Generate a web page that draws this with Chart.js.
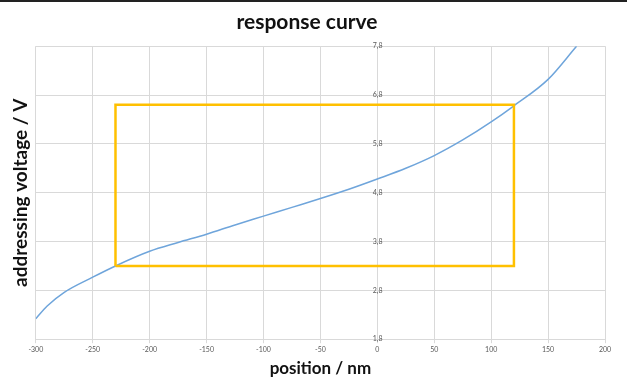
<!DOCTYPE html>
<html>
<head>
<meta charset="utf-8">
<script src="https://cdn.jsdelivr.net/npm/chart.js@4.4.1/dist/chart.umd.min.js"></script>
<style>
html,body{margin:0;padding:0;background:#fff;}
#wrap{width:627px;height:383px;border-top:2px solid #222;position:relative;}
</style>
</head>
<body>
<div id="wrap"><canvas id="c" width="627" height="383"></canvas></div>
<script>
// curve
let positions = [-300,-290,-275,-250,-230,-200,-175,-150,-125,-100,-75,-50,-25,0,25,50,75,100,120,150,175];
let voltages  = [2.22,2.48,2.76,3.07,3.30,3.60,3.78,3.95,4.14,4.32,4.50,4.68,4.87,5.08,5.30,5.56,5.88,6.25,6.58,7.12,7.80];

// the yellow box
let boxX = [-230,-230,120,120,-230];
let boxY = [3.3,6.6,6.6,3.3,3.3];

let yTicks = [1.8,2.8,3.8,4.8,5.8,6.8,7.8];

let curve = positions.map((x,i) => ({x:x, y:voltages[i]}));
let box = boxX.map((x,i) => ({x:x, y:boxY[i]}));

const tickFont = {family:"Lato", size:7};

new Chart(document.getElementById("c"), {
    type: "scatter",
    data: {
        datasets: [
            {data: curve, showLine:true, borderColor:"#6FA5DB", borderWidth:1.5, pointRadius:0, cubicInterpolationMode:"monotone", order:2},
            {data: box, showLine:true, borderColor:"#FFC000", borderWidth:2.5, pointRadius:0, tension:0, order:1},
        ]
    },
    options: {
        responsive:false,
        animation:false,
        layout:{padding:{top:0,right:22,bottom:2,left:9}},
        plugins:{
            legend:{display:false},
            tooltip:{enabled:false},
            title:{display:true, text:"response curve", color:"#111", font:{family:"Lato", size:21, weight:"bold"}, padding:{top:8,bottom:11}}
        },
        scales:{
            x:{
                type:"linear", min:-300, max:200,
                ticks:{stepSize:50, color:"#595959", font:tickFont, padding:2},
                grid:{color:"#d9d9d9", tickLength:4},
                border:{color:"#d9d9d9"},
                title:{display:true, text:"position / nm", color:"#111", font:{family:"Lato", size:17, weight:"bold"}, padding:{top:3}}
            },
            y:{
                type:"linear", min:1.8, max:7.8,
                // labels sit on the zero line; the line itself comes from the x grid
                position:{x:4.5},
                afterBuildTicks: s => { s.ticks = yTicks.map(v => ({value:v})); },
                ticks:{color:"#595959", font:tickFont, callback: v => v.toFixed(1).replace(".", ",")},
                grid:{color:"#d9d9d9", drawTicks:false},
                border:{display:false}
            },
            yt:{
                type:"linear", position:"left", min:1.8, max:7.8,
                ticks:{display:false},
                grid:{display:false},
                border:{display:false},
                title:{display:true, text:"addressing voltage / V", color:"#111", font:{family:"Lato", size:19, weight:"bold"}, padding:{top:0,bottom:-4}}
            }
        }
    }
});
</script>
</body>
</html>
